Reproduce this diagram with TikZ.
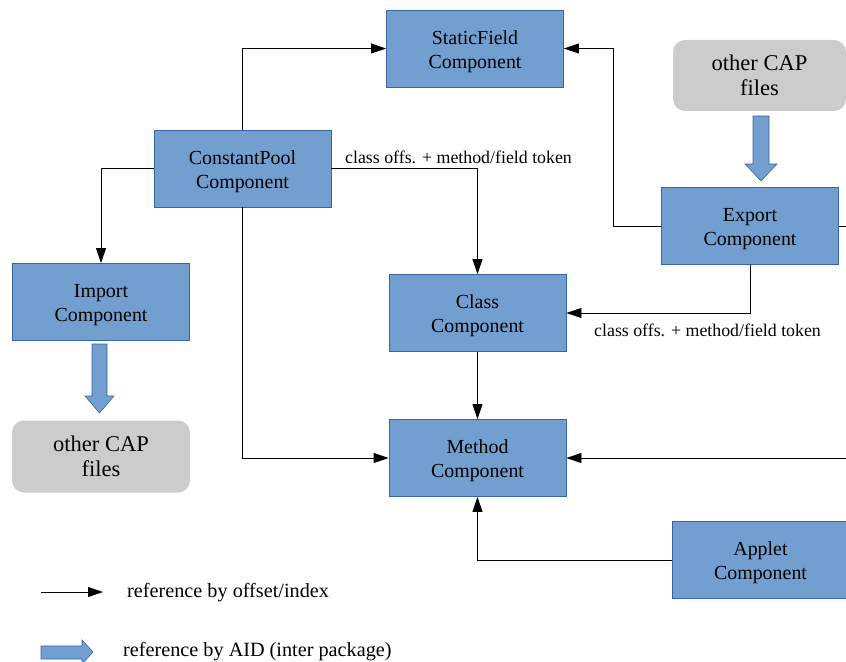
\documentclass[tikz,border=0pt]{standalone}
\usepackage{fontspec}
\setmainfont{Liberation Serif}
\usetikzlibrary{arrows.meta,calc}

\definecolor{compfill}{HTML}{729FCF}
\definecolor{compedge}{HTML}{3465A4}
\definecolor{capfill}{HTML}{CCCCCC}

% two centred lines, drawn slightly lower inside a component box
\newcommand{\compname}[2]{\raisebox{-3bp}[\height][\depth]{\begin{tabular}{@{}c@{}}#1\\#2\end{tabular}}}

\tikzset{
  comp/.style={draw=compedge, line width=0.9bp, fill=compfill, minimum width=177bp,
    minimum height=77bp, inner sep=0pt, font=\fontsize{20}{24}\selectfont},
  capfiles/.style={fill=capfill, rounded corners=12bp, minimum width=178bp,
    minimum height=72bp, inner sep=0pt, align=center, font=\fontsize{22.6}{25}\selectfont},
  ref/.style={draw=black, line width=0.9bp, -{Triangle[length=15bp,width=10bp]}},
  plainline/.style={draw=black, line width=0.9bp},
  aid/.style={draw=compedge, line width=0.6bp, fill=compfill},
  lbl/.style={inner sep=0pt, anchor=west, font=\fontsize{17.9}{20}\selectfont},
  legendtxt/.style={inner sep=0pt, anchor=west, font=\fontsize{20.3}{22}\selectfont}
}

\begin{document}
\begin{tikzpicture}[x=1bp, y=-1bp]
  \useasboundingbox (0,0) rectangle (846,662);

  % components
  \node[comp] (sf)   at (475,48.5)    {\compname{StaticField}{Component}};
  \node[comp] (cp)   at (242.5,168.5) {\compname{ConstantPool}{Component}};
  \node[comp] (imp)  at (101,302)     {\compname{Import}{Component}};
  \node[comp] (cls)  at (477.5,313)   {\compname{Class}{Component}};
  \node[comp] (meth) at (477.5,458)   {\compname{Method}{Component}};
  \node[comp] (exp)  at (750,226)     {\compname{Export}{Component}};
  \node[comp] (app)  at (760.5,560)   {\compname{Applet}{Component}};

  % external CAP files
  \node[capfiles] (capl) at (101,456.5) {other CAP\\files};
  \node[capfiles, minimum width=173bp, minimum height=71bp] (capr) at (759.5,75.5) {other CAP\\files};

  % loose ends leaving on the right
  \coordinate (rout) at (846,226);
  \coordinate (rin)  at (846,458);
  \coordinate (ebend) at (613,226);

  % references by offset / index
  \draw[ref] (cp.north) |- (sf.west);
  \draw[ref] (cp.east) -| (cls.north);
  \node[lbl] (l1) at (345,157) {class offs. + method/field token};
  \draw[ref] (cp.west) -| (imp.north);
  \draw[ref] (cp.south) |- (meth.west);
  \draw[plainline] (exp.west) -- (ebend);
  \draw[ref] (ebend) |- (sf.east);
  \draw[ref] (exp.south) |- (cls.east);
  \node[lbl] (l2) at (594,330) {class offs. + method/field token};
  \draw[ref] (cls.south) -- (meth.north);
  \draw[plainline] (exp.east) -- (rout);
  \draw[ref] (rin) -- (meth.east);
  \draw[ref] (app.west) -| (meth.south);

  % references by AID
  \draw[aid] (753,116) -- (769,116) -- (769,164) -- (777,164) -- (761,181)
             -- (745,164) -- (753,164) -- cycle;
  \draw[aid] (92,344) -- (107,344) -- (107,396) -- (114,396) -- (99.5,413)
             -- (85,396) -- (92,396) -- cycle;

  % legend
  \coordinate (lg1a) at (41,592);
  \coordinate (lg1b) at (103,592);
  \draw[ref] (lg1a) -- (lg1b);
  \node[legendtxt] (lt1) at (127,593) {reference by offset/index};
  \draw[aid] (41,646) -- (82,646) -- (82,640) -- (93,652) -- (82,664)
             -- (82,659) -- (41,659) -- cycle;
  \node[legendtxt] (lt2) at (123,652) {reference by AID (inter package)};
\end{tikzpicture}
\end{document}
